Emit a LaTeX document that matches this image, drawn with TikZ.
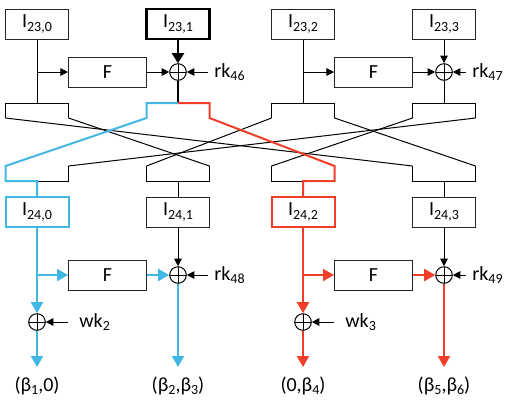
\documentclass[tikz,border=0pt]{standalone}
\usepackage{fontspec}
\setmainfont{Carlito}
\usetikzlibrary{arrows.meta}
\definecolor{myblue}{RGB}{66,183,228}
\definecolor{myred}{RGB}{240,62,40}
\newcommand{\mysub}[1]{\raisebox{-1.6pt}{\fontsize{7}{7}\selectfont #1}}
\begin{document}
\begin{tikzpicture}[x=0.5pt,y=-0.5pt,
  font=\fontsize{10}{12}\selectfont,
  box/.style={draw=black!85, line width=0.5pt, minimum width=31.5pt, minimum height=15pt, inner sep=0pt},
  fbox/.style={box, minimum width=39pt},
  xor/.style={circle, draw, line width=0.5pt, minimum size=8.3pt, inner sep=0pt,
    path picture={\draw[line width=0.5pt] (path picture bounding box.north) -- (path picture bounding box.south)
      (path picture bounding box.west) -- (path picture bounding box.east);}},
  key/.style={anchor=west, inner xsep=3pt, inner ysep=0pt},
  outl/.style={inner sep=0pt},
  wire/.style={line width=0.5pt, black},
  arr/.style={wire, -{Triangle[length=3.8pt,width=3.8pt]}},
  thk/.style={line width=1.1pt, black},
  thkarr/.style={thk, -{Triangle[length=5pt,width=6pt]}},
  bw/.style={line width=1pt, myblue},
  rw/.style={line width=1pt, myred},
  carr/.style={-{Triangle[length=5.5pt,width=6pt]}},
]
\useasboundingbox (0,0) rectangle (517,414);

% fork coordinates
\foreach \i/\c in {0/37,1/178,2/303,3/444}{
  \coordinate (ut\i) at (\c,103);
  \coordinate (uhL\i) at (\c-31.5,103);
  \coordinate (uhR\i) at (\c+31.5,103);
  \coordinate (uL\i) at (\c-31.5,118);
  \coordinate (uR\i) at (\c+31.5,118);
  \coordinate (dL\i) at (\c-31.5,166);
  \coordinate (dR\i) at (\c+31.5,166);
  \coordinate (dhL\i) at (\c-31.5,181);
  \coordinate (dhR\i) at (\c+31.5,181);
  \coordinate (dt\i) at (\c,181);
}

% top row
\node[box] (a0) at (37,24) {I\mysub{23,0}};
\node[box, line width=1.2pt, draw=black] (a1) at (178,24) {I\mysub{23,1}};
\node[box] (a2) at (303,24) {I\mysub{23,2}};
\node[box] (a3) at (444,24) {I\mysub{23,3}};
\node[fbox] (f0) at (107.5,72) {F};
\node[fbox] (f1) at (373.5,72) {F};
\node[xor] (x1) at (178,72) {};
\node[xor] (x3) at (444,72) {};
\node[key] (rk46) at (208,72) {rk\mysub{46}};
\node[key] (rk47) at (466,72) {rk\mysub{47}};
\coordinate (br0) at (37,72);
\coordinate (br1) at (303,72);

\draw[wire] (a0.south) -- (ut0);
\draw[arr] (br0) -- (f0.west);
\draw[arr] (f0.east) -- (x1.west);
\draw[thkarr] (a1.south) -- (x1.north);
\draw[arr] (rk46.west) -- (x1.east);
\draw[wire] (a2.south) -- (ut2);
\draw[arr] (br1) -- (f1.west);
\draw[arr] (f1.east) -- (x3.west);
\draw[arr] (a3.south) -- (x3.north);
\draw[arr] (rk47.west) -- (x3.east);
\draw[wire] (x3.south) -- (ut3);

% upper forks (black)
\foreach \i in {0,2,3}{
  \draw[wire] (uL\i) -- (uhL\i) -- (uhR\i) -- (uR\i);
}
% lower forks (black)
\foreach \i in {1,3}{
  \draw[wire] (dL\i) -- (dhL\i) -- (dhR\i) -- (dR\i);
}
\draw[wire] (dt0) -- (dhR0) -- (dR0);
\draw[wire] (dt2) -- (dhL2) -- (dL2);

% crossing wires (black)
\draw[wire] (uL0) -- (dL3);
\draw[wire] (uR0) -- (dR1);
\draw[wire] (uL2) -- (dL1);
\draw[wire] (uR2) -- (dR3);
\draw[wire] (uL3) -- (dL2);
\draw[wire] (uR3) -- (dR0);

% lower row boxes
\node[box, draw=myblue, line width=1pt] (b0) at (37,212) {I\mysub{24,0}};
\node[box] (b1) at (178,212) {I\mysub{24,1}};
\node[box, draw=myred, line width=1pt] (b2) at (303,212) {I\mysub{24,2}};
\node[box] (b3) at (444,212) {I\mysub{24,3}};

\draw[wire] (dt1) -- (b1.north);
\draw[wire] (dt3) -- (b3.north);

% coloured paths through the crossing
\draw[thk] (x1.south) -- (ut1);
\draw[bw] (ut1) -- (uhL1) -- (uL1) -- (dL0) -- (dhL0) -- (dt0) -- (b0.north);
\draw[rw] (ut1) -- (uhR1) -- (uR1) -- (dR2) -- (dhR2) -- (dt2) -- (b2.north);

% lower half
\node[fbox] (f2) at (107.5,275) {F};
\node[fbox] (f3) at (373.5,275) {F};
\node[xor] (x48) at (178,275) {};
\node[xor] (x49) at (444,275) {};
\node[key] (rk48) at (208,275) {rk\mysub{48}};
\node[key] (rk49) at (466,275) {rk\mysub{49}};
\node[xor] (w2) at (37,322) {};
\node[xor] (w3) at (303,322) {};
\node[key, inner xsep=5.5pt] (wk2) at (68,322) {wk\mysub{2}};
\node[key, inner xsep=5.5pt] (wk3) at (334,322) {wk\mysub{3}};
\coordinate (br2) at (37,275);
\coordinate (br3) at (303,275);
\coordinate (e0) at (37,367);
\coordinate (e1) at (178,367);
\coordinate (e2) at (303,367);
\coordinate (e3) at (444,367);

\draw[arr] (b1.south) -- (x48.north);
\draw[arr] (rk48.west) -- (x48.east);
\draw[arr] (b3.south) -- (x49.north);
\draw[arr] (rk49.west) -- (x49.east);
\draw[arr] (wk2.west) -- (w2.east);
\draw[arr] (wk3.west) -- (w3.east);

\draw[bw, carr] (b0.south) -- (w2.north);
\draw[bw, carr] (br2) -- (f2.west);
\draw[bw, carr] (f2.east) -- (x48.west);
\draw[bw, carr] (x48.south) -- (e1);
\draw[bw, carr] (w2.south) -- (e0);

\draw[rw, carr] (b2.south) -- (w3.north);
\draw[rw, carr] (br3) -- (f3.west);
\draw[rw, carr] (f3.east) -- (x49.west);
\draw[rw, carr] (x49.south) -- (e3);
\draw[rw, carr] (w3.south) -- (e2);

% outputs
\node[outl] (o0) at (37,386) {(β\mysub{1},0)};
\node[outl] (o1) at (178,386) {(β\mysub{2},β\mysub{3})};
\node[outl] (o2) at (303,386) {(0,β\mysub{4})};
\node[outl] (o3) at (444,386) {(β\mysub{5},β\mysub{6})};
\end{tikzpicture}
\end{document}
